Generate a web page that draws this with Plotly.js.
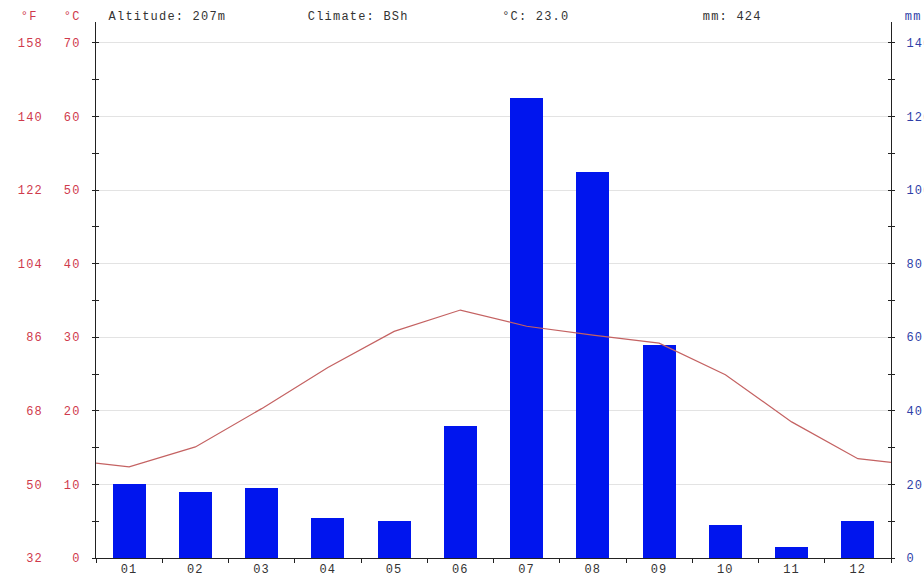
<!DOCTYPE html>
<html>
<head>
<meta charset="utf-8">
<script src="https://cdn.plot.ly/plotly-3.0.1.min.js"></script>
<style>
html,body{margin:0;padding:0;background:#fff;}
#chart{width:924px;height:578px;}
#chart svg text{letter-spacing:1.2px;}
</style>
</head>
<body>
<div id="chart"></div>
<script>
// ---- data ----
const monthLabels = ['01','02','03','04','05','06','07','08','09','10','11','12'];
const precipMm = [20, 18, 19, 11, 10, 36, 125, 105, 58, 9, 3, 10];
const tempC = [12.4, 15.1, 20.3, 25.9, 30.8, 33.7, 31.5, 30.3, 29.2, 24.9, 18.5, 13.5];
const tempEdgeStartC = 12.9;   // line value at left plot edge
const tempEdgeEndC = 13.0;     // line value at right plot edge
const celsiusTicks = [0, 10, 20, 30, 40, 50, 60, 70];
const fahrenheitTickLabels = ['32', '50', '68', '86', '104', '122', '140', '158'];
const mmTicks = [0, 20, 40, 60, 80, 100, 120, 140];
const headerTexts = ['Altitude: 207m', 'Climate: BSh', '°C: 23.0', 'mm: 424'];

// ---- layout constants ----
const W = 924, H = 578;
const L = 96, R = 891, TOP = 22, BOT = 558;
const cTop = 72.85;             // °C at top of axis line
const mmTop = cTop * 2;
const red = '#cf3a4c', blue = '#2f3fa8', dark = '#333333';
const FONT = 'Liberation Mono, DejaVu Sans Mono, monospace';
const SPACING = 1.2;

const xIdx = monthLabels.map((_, i) => i + 1);
const lineX = [0.5].concat(xIdx, [12.5]);
const lineY = [tempEdgeStartC].concat(tempC, [tempEdgeEndC]);

const px2paperX = px => (px - L) / (R - L);
const px2paperY = py => (BOT - py) / (BOT - TOP);

const traces = [
  {
    type: 'bar', x: xIdx, y: precipMm, yaxis: 'y', xaxis: 'x',
    width: 0.5, marker: {color: '#0015ee', line: {width: 0}},
    hoverinfo: 'skip', showlegend: false
  },
  {
    type: 'scatter', mode: 'lines', x: lineX, y: lineY, yaxis: 'y2', xaxis: 'x',
    line: {color: '#c46262', width: 1.2}, hoverinfo: 'skip', showlegend: false
  },
  // invisible helper traces so the overlay axes render
  {type: 'scatter', mode: 'none', x: [1], y: [0], yaxis: 'y3', hoverinfo: 'skip', showlegend: false},
  {type: 'scatter', mode: 'none', x: [1], y: [0], yaxis: 'y4', hoverinfo: 'skip', showlegend: false}
];

const headerX = [107, 306, 500, 701];
const annotations = headerTexts.map((t, i) => ({
  text: t, xref: 'paper', yref: 'paper',
  x: px2paperX(headerX[i] + t.length * SPACING / 2), y: px2paperY(17),
  xanchor: 'left', yanchor: 'middle', showarrow: false,
  font: {family: FONT, size: 12, color: dark}
}));
annotations.push(
  {text: '°F', xref: 'paper', yref: 'paper', x: px2paperX(29), y: px2paperY(17), xanchor: 'center', yanchor: 'middle', showarrow: false, font: {family: FONT, size: 12, color: red}},
  {text: '°C', xref: 'paper', yref: 'paper', x: px2paperX(72), y: px2paperY(17), xanchor: 'center', yanchor: 'middle', showarrow: false, font: {family: FONT, size: 12, color: red}},
  {text: 'mm', xref: 'paper', yref: 'paper', x: px2paperX(904), y: px2paperY(17), xanchor: 'left', yanchor: 'middle', showarrow: false, font: {family: FONT, size: 12, color: blue}}
);

const layout = {
  width: W, height: H,
  margin: {l: L, r: W - R, t: TOP, b: H - BOT, pad: 0},
  paper_bgcolor: '#fff', plot_bgcolor: '#fff',
  font: {family: FONT, size: 12},
  showlegend: false,
  bargap: 0,
  xaxis: {
    range: [0.5, 12.5], tickmode: 'array', tickvals: xIdx, ticktext: monthLabels,
    ticks: '', showgrid: false, zeroline: false, showline: true, linecolor: '#222', linewidth: 1,
    tickfont: {family: FONT, size: 12, color: dark},
    minor: {tickmode: 'linear', tick0: 0.5, dtick: 1, ticks: 'outside', ticklen: 4, tickcolor: '#222', showgrid: false},
    fixedrange: true
  },
  yaxis: {
    side: 'right', range: [0, mmTop], tickmode: 'array', tickvals: mmTicks,
    ticks: 'outside', ticklen: 3, tickcolor: '#222',
    minor: {tickmode: 'linear', tick0: 0, dtick: 10, ticks: 'outside', ticklen: 3, tickcolor: '#222', showgrid: false},
    showgrid: true, gridcolor: '#e3e3e3', gridwidth: 1, zeroline: false,
    showline: true, linecolor: '#222', linewidth: 1,
    tickfont: {family: FONT, size: 12, color: blue}, ticklabelstandoff: 9,
    fixedrange: true
  },
  yaxis4: {
    overlaying: 'y', side: 'right', range: [0, mmTop], tickmode: 'array', tickvals: mmTicks,
    ticks: 'inside', ticklen: 3, tickcolor: '#222', showticklabels: false,
    minor: {tickmode: 'linear', tick0: 0, dtick: 10, ticks: 'inside', ticklen: 3, tickcolor: '#222', showgrid: false},
    showgrid: false, zeroline: false, showline: false, fixedrange: true
  },
  yaxis2: {
    overlaying: 'y', side: 'left', range: [0, cTop], tickmode: 'array', tickvals: celsiusTicks,
    ticks: 'outside', ticklen: 3, tickcolor: '#222',
    minor: {tickmode: 'linear', tick0: 0, dtick: 5, ticks: 'outside', ticklen: 3, tickcolor: '#222', showgrid: false},
    showgrid: false, zeroline: false, showline: true, linecolor: '#222', linewidth: 1,
    tickfont: {family: FONT, size: 12, color: red}, ticklabelstandoff: 9,
    fixedrange: true
  },
  yaxis3: {
    overlaying: 'y', side: 'left', range: [0, cTop], tickmode: 'array', tickvals: celsiusTicks,
    ticktext: fahrenheitTickLabels,
    ticks: 'inside', ticklen: 3, tickcolor: '#222',
    minor: {tickmode: 'linear', tick0: 0, dtick: 5, ticks: 'inside', ticklen: 3, tickcolor: '#222', showgrid: false},
    showgrid: false, zeroline: false, showline: false,
    tickfont: {family: FONT, size: 12, color: red}, ticklabelstandoff: 52,
    fixedrange: true
  },
  annotations: annotations
};

Plotly.newPlot('chart', traces, layout, {staticPlot: true, displayModeBar: false});
</script>
</body>
</html>
